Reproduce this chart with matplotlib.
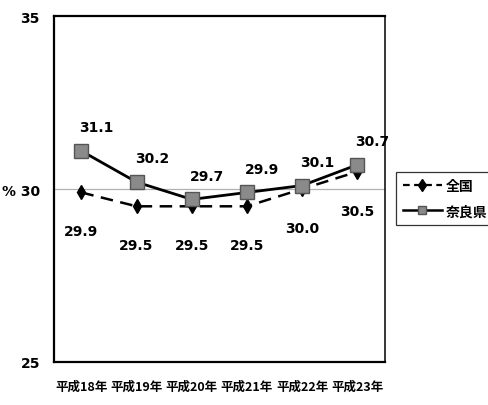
import matplotlib
matplotlib.use("Agg")
import matplotlib.pyplot as plt
from matplotlib.lines import Line2D

plt.rcParams['font.family'] = ['Noto Sans CJK JP', 'DejaVu Sans']

years = ['平成18年', '平成19年', '平成20年', '平成21年', '平成22年', '平成23年']
national = [29.9, 29.5, 29.5, 29.5, 30.0, 30.5]
nara = [31.1, 30.2, 29.7, 29.9, 30.1, 30.7]
series_names = ['全国', '奈良県']
y_ticks = [25, 30, 35]
y_tick_labels = ['25', '% 30', '35']

fig = plt.figure(figsize=(4.89, 4.06), dpi=100)
ax = fig.add_axes([0.110, 0.106, 0.677, 0.852])

x = list(range(len(years)))
ax.set_xlim(-0.5, len(years) - 0.5)
ax.set_ylim(25, 35)

ax.axhline(30, color='#b0b0b0', lw=0.9, zorder=1)

ax.plot(x, national, color='black', lw=1.8, ls=(0, (5, 3)), marker='d',
        ms=7, mfc='black', mec='black', zorder=3)
ax.plot(x, nara, color='black', lw=2.0, ls='-', marker='s',
        ms=10, mfc='#8a8a8a', mec='#555555', mew=1.0, zorder=4)

num_font = dict(fontsize=10, fontweight='bold', family=['Liberation Sans Narrow', 'DejaVu Sans'])
for xi, v in zip(x, nara):
    ax.annotate(f'{v:.1f}', (xi, v), xytext=(11, 17), textcoords='offset points',
                ha='center', va='center', **num_font)
for xi, v in zip(x, national):
    ax.annotate(f'{v:.1f}', (xi, v), xytext=(0, -28), textcoords='offset points',
                ha='center', va='center', **num_font)

ax.set_xticks(x)
ax.set_xticklabels(years, fontsize=9, fontweight='bold')
ax.set_yticks(y_ticks)
ax.set_yticklabels(y_tick_labels, fontsize=10, fontweight='bold',
                   family=['Liberation Sans Narrow', 'DejaVu Sans'])
ax.tick_params(axis='both', length=0, pad=10)
ax.tick_params(axis='x', pad=13)

for side, sp in ax.spines.items():
    sp.set_color('black')
    sp.set_linewidth(1.6 if side != 'right' else 1.1)

handles = [
    Line2D([], [], color='black', lw=1.6, ls=(0, (3, 2)), marker='d', ms=6, mfc='black'),
    Line2D([], [], color='black', lw=1.8, marker='s', ms=6, mfc='#8a8a8a', mec='#555555'),
]
leg = fig.legend(handles, series_names, loc='center left', bbox_to_anchor=(0.795, 0.508),
                 frameon=True, fancybox=False, edgecolor='black', handlelength=2.8,
                 handletextpad=0.3, borderpad=0.5, labelspacing=0.8,
                 prop={'size': 10, 'weight': 'bold'})
leg.get_frame().set_linewidth(0.9)

fig.savefig('out.png', dpi=100, facecolor='white')
